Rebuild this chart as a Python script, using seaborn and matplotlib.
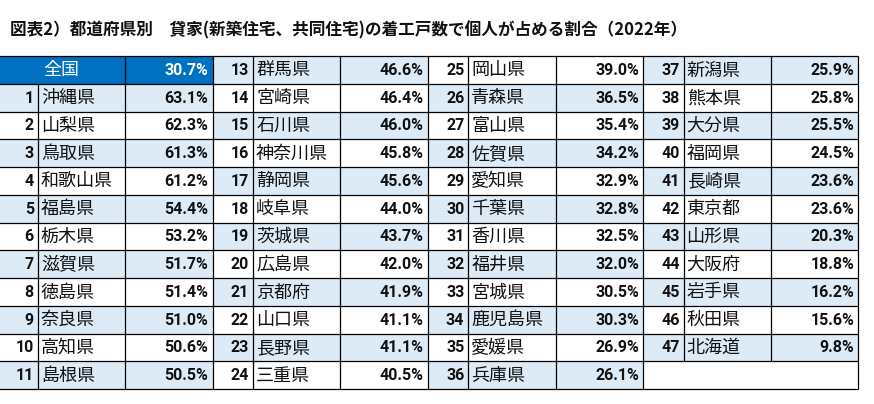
import matplotlib
matplotlib.use("Agg")
import matplotlib.pyplot as plt
from matplotlib.colors import ListedColormap
import numpy as np
import pandas as pd
import seaborn as sns

title = "図表2）都道府県別　貸家(新築住宅、共同住宅)の着工戸数で個人が占める割合（2022年）"
national_label = "全国"
national_value = 30.7
ranks = [1, 2, 3, 4, 5, 6, 7, 8, 9, 10, 11,
         13, 14, 15, 16, 17, 18, 19, 20, 21, 22, 23, 24,
         25, 26, 27, 28, 29, 30, 31, 32, 33, 34, 35, 36,
         37, 38, 39, 40, 41, 42, 43, 44, 45, 46, 47]
prefs = ["沖縄県", "山梨県", "鳥取県", "和歌山県", "福島県", "栃木県", "滋賀県", "徳島県", "奈良県", "高知県", "島根県",
         "群馬県", "宮崎県", "石川県", "神奈川県", "静岡県", "岐阜県", "茨城県", "広島県", "京都府", "山口県", "長野県", "三重県",
         "岡山県", "青森県", "富山県", "佐賀県", "愛知県", "千葉県", "香川県", "福井県", "宮城県", "鹿児島県", "愛媛県", "兵庫県",
         "新潟県", "熊本県", "大分県", "福岡県", "長崎県", "東京都", "山形県", "大阪府", "岩手県", "秋田県", "北海道"]
shares = [63.1, 62.3, 61.3, 61.2, 54.4, 53.2, 51.7, 51.4, 51.0, 50.6, 50.5,
          46.6, 46.4, 46.0, 45.8, 45.6, 44.0, 43.7, 42.0, 41.9, 41.1, 41.1, 40.5,
          39.0, 36.5, 35.4, 34.2, 32.9, 32.8, 32.5, 32.0, 30.5, 30.3, 26.9, 26.1,
          25.9, 25.8, 25.5, 24.5, 23.6, 23.6, 20.3, 18.8, 16.2, 15.6, 9.8]

n_rows, n_groups = 12, 4
c_num, c_name = 0.1884, 0.5944   # inner cell borders as fraction of a group

sns.set_theme(style="white")
plt.rcParams['font.family'] = ['Noto Sans CJK JP', 'DejaVu Sans']

# shading: checkerboard of light blue, national row in dark blue
shade = np.zeros((n_rows, n_groups), dtype=int)
for r in range(n_rows):
    for g in range(n_groups):
        if (r + g) % 2 == 1:
            shade[r, g] = 1
shade[0, 0] = 2
n_filled = len(prefs) + 1
for k in range(n_filled, n_rows * n_groups):
    shade[k % n_rows, k // n_rows] = 0
shade_df = pd.DataFrame(shade)

fig = plt.figure(figsize=(8.74, 4.04), dpi=100)
ax = fig.add_axes([-2.7 / 874, 15 / 404, 861 / 874, 333 / 404])
sns.heatmap(shade_df, cmap=ListedColormap(["white", "#DDEBF7", "#0070C0"]),
            vmin=0, vmax=2, cbar=False, ax=ax,
            xticklabels=False, yticklabels=False)

lw = 0.9
ax.hlines(np.arange(n_rows + 1), 0, n_groups, colors="black", lw=lw, clip_on=False)
ax.vlines(np.arange(n_groups + 1), 0, n_rows, colors="black", lw=lw, clip_on=False)
for g in range(n_groups):
    for r in range(n_rows):
        k = g * n_rows + r
        if k >= n_filled:
            continue
        if k != 0:
            ax.vlines(g + c_num, r, r + 1, colors="black", lw=lw)
        ax.vlines(g + c_name, r, r + 1, colors="black", lw=lw)

px = 1 / 215.0
num_font = dict(family=["Roboto", "DejaVu Sans"], fontweight="bold", fontsize=11.5)
name_font = dict(fontsize=13)

# national row
ax.text(c_name / 2, 0.5, national_label, ha="center", va="center", color="white", **name_font)
ax.text(1 - 4 * px, 0.52, f"{national_value:.1f}%", ha="right", va="center", color="white", **num_font)

for i, (rk, nm, v) in enumerate(zip(ranks, prefs, shares)):
    k = i + 1
    g, r = k // n_rows, k % n_rows
    y = r + 0.52
    ax.text(g + c_num - 4 * px, y, str(rk), ha="right", va="center", color="#111111", **num_font)
    ax.text(g + c_num + 3 * px, y, nm, ha="left", va="center", color="#111111", **name_font)
    ax.text(g + 1 - 4 * px, y, f"{v:.1f}%", ha="right", va="center", color="#111111", **num_font)

fig.text(10 / 874, 1 - 30 / 404, title, ha="left", va="center",
         fontsize=12, fontweight="bold", color="#111111")

fig.savefig("out.png", dpi=100)
